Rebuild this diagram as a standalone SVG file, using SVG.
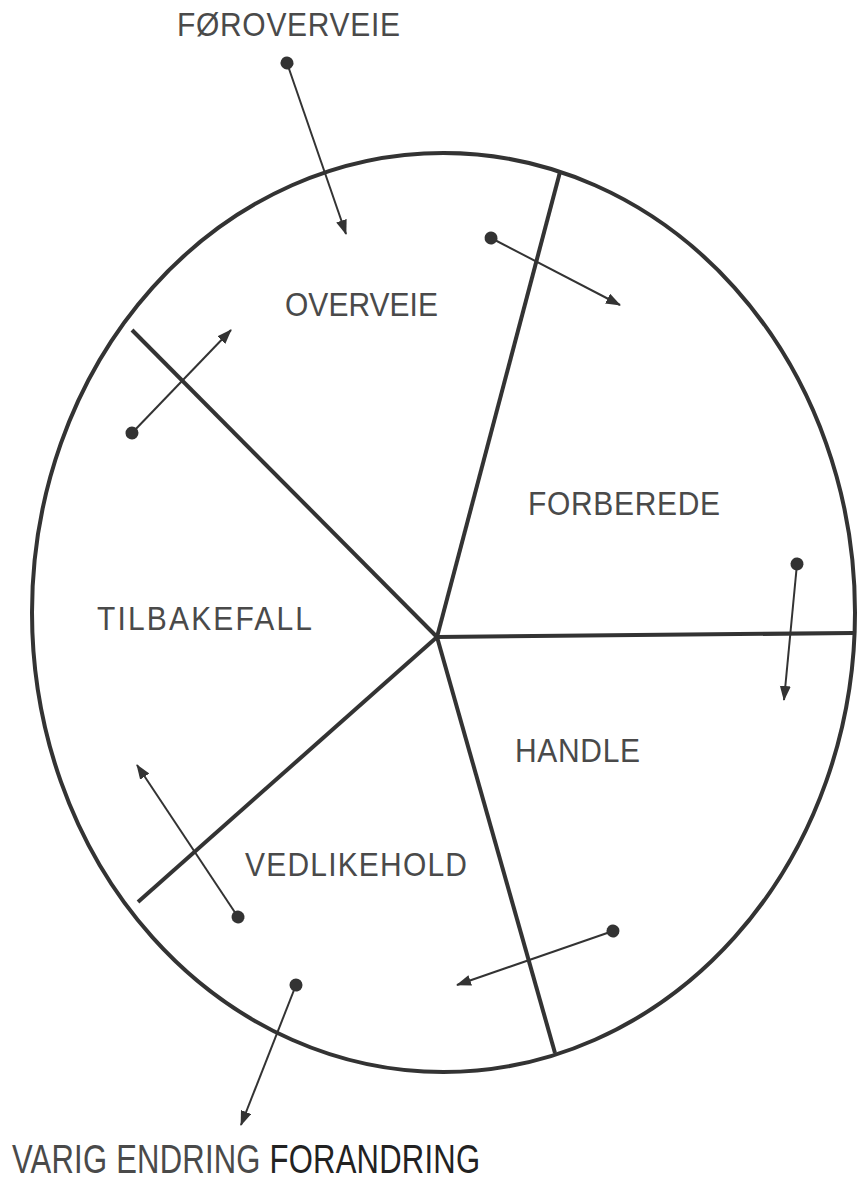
<svg xmlns="http://www.w3.org/2000/svg" width="859" height="1191" viewBox="0 0 859 1191">
<style>
.lbl{font-family:"Liberation Sans",Arial,sans-serif;font-size:30px;fill:#4a4a4a;}
.rim{fill:none;stroke:#333;stroke-width:4;}
.spoke{stroke:#333;stroke-width:4;stroke-linecap:butt;fill:none;}
.arr{stroke:#333;stroke-width:2;fill:none;marker-start:url(#dot);marker-end:url(#head);}
</style>
<defs>
<marker id="head" markerUnits="userSpaceOnUse" markerWidth="16" markerHeight="12" refX="14" refY="5.5" orient="auto">
<path d="M0,0 L15,5.5 L0,11 z" fill="#333"/>
</marker>
<marker id="dot" markerUnits="userSpaceOnUse" markerWidth="16" markerHeight="16" refX="8" refY="8" orient="auto">
<circle cx="8" cy="8" r="6.5" fill="#333"/>
</marker>
</defs>
<rect width="859" height="1191" fill="#fff"/>
<g id="wheel">
<ellipse class="rim" cx="443.5" cy="612.5" rx="411.5" ry="459.5"/>
<line class="spoke" x1="437" y1="637" x2="560" y2="172"/>
<line class="spoke" x1="437" y1="637" x2="853" y2="633"/>
<line class="spoke" x1="437" y1="637" x2="555" y2="1053"/>
<line class="spoke" x1="437" y1="637" x2="138" y2="902"/>
<line class="spoke" x1="437" y1="637" x2="132" y2="330"/>
</g>
<g id="connectors">
<line class="arr" x1="287" y1="63" x2="346" y2="234"/>
<line class="arr" x1="491" y1="238" x2="620" y2="305"/>
<line class="arr" x1="797" y1="564" x2="784" y2="700"/>
<line class="arr" x1="613" y1="931" x2="457" y2="985"/>
<line class="arr" x1="296" y1="985" x2="241" y2="1125"/>
<line class="arr" x1="238" y1="917" x2="137" y2="765"/>
<line class="arr" x1="132" y1="433" x2="231" y2="330"/>
</g>
<g id="node-foroverveie"><text class="lbl" transform="translate(177,36) scale(1,1.12)" textLength="223" lengthAdjust="spacing">FØROVERVEIE</text></g>
<g id="node-overveie"><text class="lbl" transform="translate(285,316) scale(1,1.12)" textLength="153" lengthAdjust="spacing">OVERVEIE</text></g>
<g id="node-forberede"><text class="lbl" transform="translate(528,515) scale(1,1.12)" textLength="192" lengthAdjust="spacing">FORBEREDE</text></g>
<g id="node-tilbakefall"><text class="lbl" transform="translate(97,630) scale(1,1.12)" textLength="215" lengthAdjust="spacing">TILBAKEFALL</text></g>
<g id="node-handle"><text class="lbl" transform="translate(515,762) scale(1,1.12)" textLength="125" lengthAdjust="spacing">HANDLE</text></g>
<g id="node-vedlikehold"><text class="lbl" transform="translate(245,876) scale(1,1.12)" textLength="222" lengthAdjust="spacing">VEDLIKEHOLD</text></g>
<g id="node-varig-endring"><text class="lbl" transform="translate(12,1173) scale(1,1.3)" style="font-size:31px" textLength="468" lengthAdjust="spacing">VARIG ENDRING <tspan fill="#222">FORANDRING</tspan></text></g>
</svg>
